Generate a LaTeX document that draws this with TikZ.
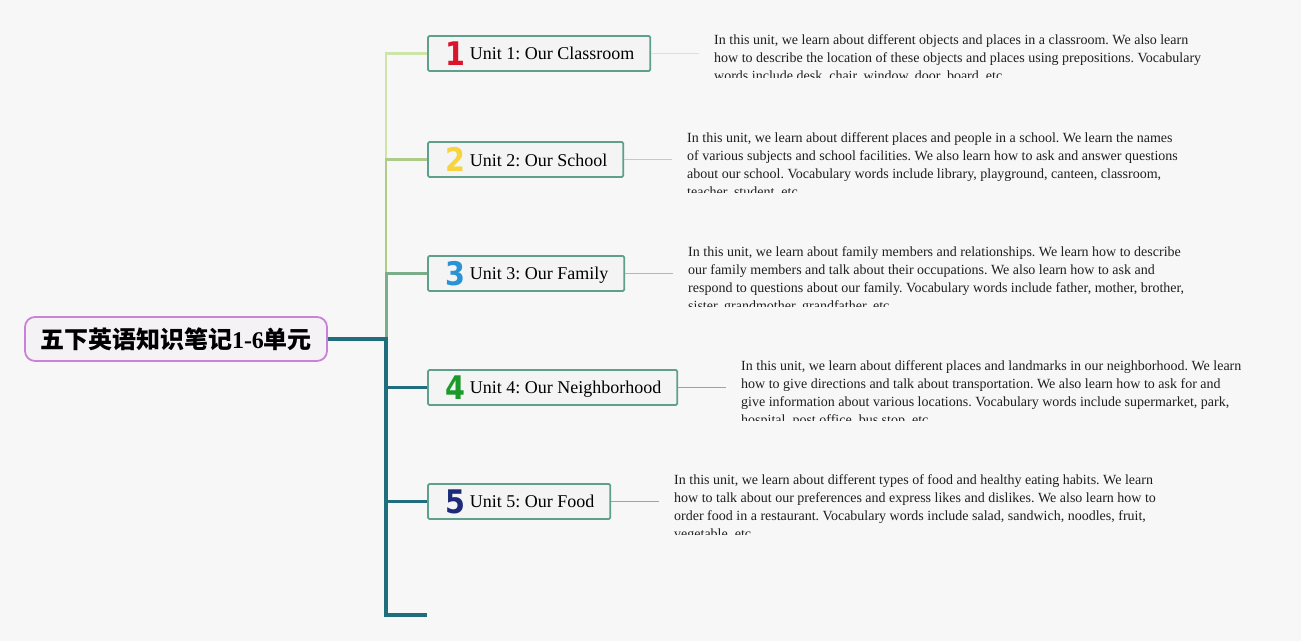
\documentclass[tikz,border=0pt]{standalone}
\usepackage{fontspec}
\setmainfont{Liberation Serif}
\newfontfamily\cjkfont{Noto Sans CJK SC}
\newfontfamily\digitfont{DejaVu Sans}
\usetikzlibrary{calc}
\pgfdeclarelayer{paper}
\pgfdeclarelayer{links}
\pgfsetlayers{paper,links,main}
\frenchspacing
\definecolor{bgc}{HTML}{F7F7F7}
\definecolor{rootline}{HTML}{C982D8}
\definecolor{rootfill}{HTML}{F4F2F5}
\definecolor{boxline}{HTML}{5E9F8E}
\definecolor{boxfill}{HTML}{F4F4F4}
\definecolor{brA}{HTML}{CDE6A8}
\definecolor{brB}{HTML}{AECB8A}
\definecolor{brC}{HTML}{79AE88}
\definecolor{brD}{HTML}{1E6E7E}
\definecolor{cnA}{HTML}{D3EABA}
\definecolor{cnB}{HTML}{BFD49E}
\definecolor{cnC}{HTML}{9CC6AA}
\definecolor{cnD}{HTML}{78B2BA}
\definecolor{numA}{HTML}{D9142B}
\definecolor{numB}{HTML}{F5D43F}
\definecolor{numC}{HTML}{2A93D5}
\definecolor{numD}{HTML}{1A9A2A}
\definecolor{numE}{HTML}{1D2A7A}
\newcommand\unitdigit[2]{\hspace{2pt}\raisebox{-5.5pt}{\scalebox{1.1}[1.25]{\digitfont\bfseries\fontsize{26}{26}\selectfont\color{#1}#2}}\hspace{4pt}}
\tikzset{
  rootbox/.style={draw=rootline, line width=1.8pt, fill=rootfill, rounded corners=10pt,
    minimum height=44pt, inner xsep=15pt, font=\fontsize{24}{24}\selectfont},
  unitbox/.style={draw=boxline, line width=1.8pt, fill=boxfill, rounded corners=1.5pt,
    minimum height=35pt, inner xsep=16pt, inner ysep=0pt, anchor=west,
    font=\fontsize{18}{18}\selectfont},
  desc/.style={inner sep=0pt, align=left, anchor=north west, text=black!88,
    font=\fontsize{14}{18}\selectfont},
  brlineA/.style={draw=brA, line width=2.2pt},
  brlineB/.style={draw=brB, line width=2.2pt},
  brlineC/.style={draw=brC, line width=3pt},
  brlineD/.style={draw=brD, line width=3.5pt},
  cnline/.style={line width=1.5pt, shorten >=15pt},
}
\begin{document}
\begin{tikzpicture}[x=1pt,y=-1pt]
\begin{pgfonlayer}{paper}
\fill[bgc] (0,0) rectangle (1301,641);
\end{pgfonlayer}
\useasboundingbox (0,0) rectangle (1301,641);

\node[rootbox] (root) at (176,339) {\cjkfont\bfseries 五下英语知识笔记{\rmfamily\bfseries 1-6}单元};

\node[unitbox] (u1) at (427,53.5) {\unitdigit{numA}{1}Unit 1: Our Classroom};
\node[unitbox] (u2) at (427,159.5) {\unitdigit{numB}{2}Unit 2: Our School};
\node[unitbox] (u3) at (427,273.5) {\unitdigit{numC}{3}Unit 3: Our Family};
\node[unitbox] (u4) at (427,387.5) {\unitdigit{numD}{4}Unit 4: Our Neighborhood};
\node[unitbox] (u5) at (427,501.5) {\unitdigit{numE}{5}Unit 5: Our Food};
\coordinate (u6) at (427,615);
\coordinate (j) at (386,339);

% branches (drawn far to near, under the boxes)
\begin{pgfonlayer}{links}
\draw[brlineA] (j) |- (u1.west);
\draw[brlineB] (j) |- (u2.west);
\draw[brlineC] (j) |- (u3.west);
\draw[brlineD] (j) |- (u6);
\draw[brlineD] (j) |- (u5.west);
\draw[brlineD] (root.east) -- (j) |- (u4.west);
\end{pgfonlayer}

% descriptions
\begin{scope}
\clip (700,25) rectangle (1280,77);
\node[desc] (t1) at (714,34) {In this unit, we learn about different objects and places in a classroom. We also learn\\
how to describe the location of these objects and places using prepositions. Vocabulary\\
words include desk, chair, window, door, board, etc.};
\end{scope}
\begin{scope}
\clip (670,125) rectangle (1280,192);
\node[desc] (t2) at (687,132) {In this unit, we learn about different places and people in a school. We learn the names\\
of various subjects and school facilities. We also learn how to ask and answer questions\\
about our school. Vocabulary words include library, playground, canteen, classroom,\\
teacher, student, etc.};
\end{scope}
\begin{scope}
\clip (670,239) rectangle (1280,306);
\node[desc] (t3) at (688,246) {In this unit, we learn about family members and relationships. We learn how to describe\\
our family members and talk about their occupations. We also learn how to ask and\\
respond to questions about our family. Vocabulary words include father, mother, brother,\\
sister, grandmother, grandfather, etc.};
\end{scope}
\begin{scope}
\clip (720,353) rectangle (1295,420);
\node[desc] (t4) at (741,360) {In this unit, we learn about different places and landmarks in our neighborhood. We learn\\
how to give directions and talk about transportation. We also learn how to ask for and\\
give information about various locations. Vocabulary words include supermarket, park,\\
hospital, post office, bus stop, etc.};
\end{scope}
\begin{scope}
\clip (660,467) rectangle (1280,534);
\node[desc] (t5) at (674,474) {In this unit, we learn about different types of food and healthy eating habits. We learn\\
how to talk about our preferences and express likes and dislikes. We also learn how to\\
order food in a restaurant. Vocabulary words include salad, sandwich, noodles, fruit,\\
vegetable, etc.};
\end{scope}

\draw[cnline, draw=cnA] (u1.east) -- (u1.east -| t1.west);
\draw[cnline, draw=cnB] (u2.east) -- (u2.east -| t2.west);
\draw[cnline, draw=cnC] (u3.east) -- (u3.east -| t3.west);
\draw[cnline, draw=cnD] (u4.east) -- (u4.east -| t4.west);
\draw[cnline, draw=cnD] (u5.east) -- (u5.east -| t5.west);
\end{tikzpicture}
\end{document}
